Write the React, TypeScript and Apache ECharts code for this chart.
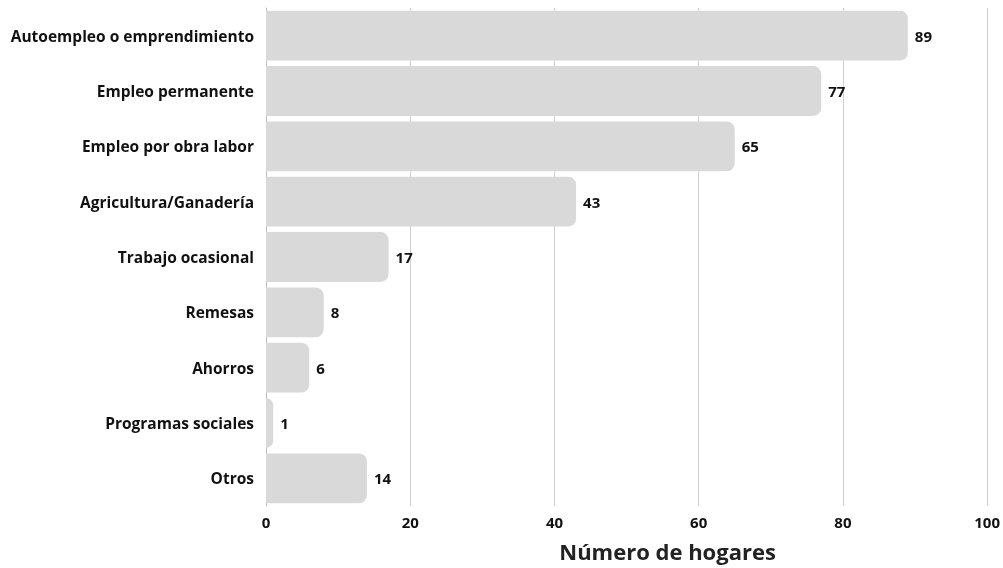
import React, { useEffect, useRef } from "react";
import * as echarts from "echarts";

const categories = [
  "Autoempleo o emprendimiento",
  "Empleo permanente",
  "Empleo por obra labor",
  "Agricultura/Ganadería",
  "Trabajo ocasional",
  "Remesas",
  "Ahorros",
  "Programas sociales",
  "Otros",
];
const values = [89, 77, 65, 43, 17, 8, 6, 1, 14];
const axisTitle = "Número de hogares";

const FONT = "'Open Sans', 'Noto Sans', sans-serif";

export default function App() {
  const ref = useRef<HTMLDivElement>(null);
  useEffect(() => {
    const chart = echarts.init(ref.current!, null, { renderer: "svg" });
    chart.setOption({
      animation: false,
      grid: { left: 266, right: 15, top: 8, bottom: 62, containLabel: false },
      xAxis: {
        type: "value",
        min: 0,
        max: 100,
        interval: 20,
        name: axisTitle,
        nameLocation: "middle",
        nameGap: 34,
        nameTextStyle: {
          fontFamily: FONT,
          fontWeight: "bold",
          fontSize: 22,
          color: "#222",
          padding: [0, 0, 0, 82],
        },
        axisLine: { show: false },
        axisTick: { show: false },
        axisLabel: { fontFamily: FONT, fontWeight: "bold", fontSize: 15, color: "#111", margin: 8 },
        splitLine: { show: true, lineStyle: { color: "#d0d0d0", width: 1 } },
      },
      yAxis: {
        type: "category",
        data: categories,
        inverse: true,
        axisLine: { show: true, lineStyle: { color: "#bdbdbd", width: 1 } },
        axisTick: { show: false },
        axisLabel: { fontFamily: FONT, fontWeight: "bold", fontSize: 15.5, color: "#111", margin: 12 },
      },
      series: [
        {
          type: "bar",
          data: values,
          barCategoryGap: "10%",
          itemStyle: { color: "#d9d9d9", borderRadius: [0, 8, 8, 0] },
          label: {
            show: true,
            position: "right",
            distance: 7,
            fontFamily: FONT,
            fontWeight: "bold",
            fontSize: 15,
            color: "#111",
          },
        },
      ],
    });
    return () => chart.dispose();
  }, []);
  return <div ref={ref} style={{ position: "fixed", left: 0, top: 0, width: 1003, height: 568 }} />;
}
